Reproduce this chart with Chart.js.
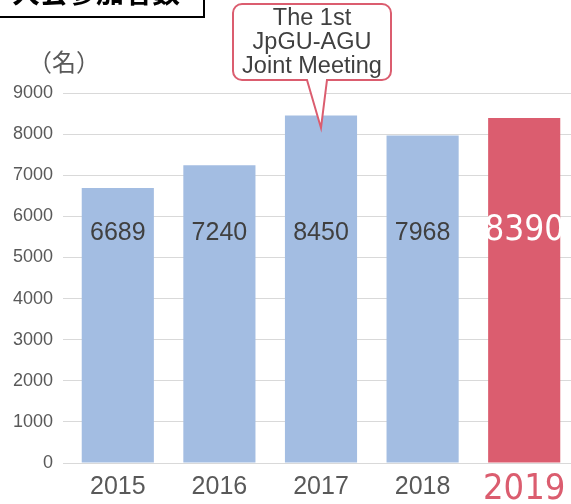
<!DOCTYPE html>
<html>
<head>
<meta charset="utf-8">
<script src="https://cdn.jsdelivr.net/npm/chart.js@4"></script>
<style>
  html, body { margin: 0; padding: 0; background: #fff; overflow: hidden; }
  #wrap { position: relative; width: 580px; height: 504px; }
</style>
</head>
<body>
<div id="wrap"><canvas id="barChart" width="580" height="504"></canvas></div>
<script>
const years = ['2015', '2016', '2017', '2018', '2019']
const participants = [6689, 7240, 8450, 7968, 8390]
const yTicks = [0, 1000, 2000, 3000, 4000, 5000, 6000, 7000, 8000, 9000]
const unitLabel = '（名）'
const titleText = '大会参加者数'
const calloutLines = ['The 1st', 'JpGU-AGU', 'Joint Meeting']

const BLUE = 'rgb(163, 189, 226)'
const RED = 'rgb(219, 93, 111)'
const GRAY = '#595959'
const TEXT = '#404040'
const SANS = '"Liberation Sans", Arial, sans-serif'
const NARROW = '"Liberation Sans Narrow", "DejaVu Sans Condensed", sans-serif'

const lastIdx = years.length - 1
const barColors = years.map((y, i) => i === lastIdx ? RED : BLUE)

// value labels inside the bars + annotations
const overlay = {
    id: 'overlay',
    afterDatasetsDraw(chart) {
        const ctx = chart.ctx
        const meta = chart.getDatasetMeta(0)
        const yScale = chart.scales.y
        const labelY = yScale.getPixelForValue(5600)
        ctx.save()
        ctx.textAlign = 'center'
        ctx.textBaseline = 'middle'
        meta.data.forEach((bar, i) => {
            if (i === lastIdx) {
                ctx.fillStyle = '#fff'
                ctx.font = '35px ' + NARROW
                ctx.fillText(String(participants[i]), bar.x, labelY - 2)
            } else {
                ctx.fillStyle = TEXT
                ctx.font = '25px ' + SANS
                ctx.fillText(String(participants[i]), bar.x, labelY)
            }
        })

        // unit label
        ctx.fillStyle = GRAY
        ctx.font = '24px "Noto Sans CJK JP", sans-serif'
        ctx.fillText(unitLabel, 64, 62)

        // title box, cut at the top of the picture
        ctx.fillStyle = '#fff'
        ctx.strokeStyle = '#000'
        ctx.lineWidth = 2
        ctx.fillRect(-4, -4, 208, 21)
        ctx.strokeRect(-4, -4, 208, 21)
        ctx.fillStyle = '#000'
        ctx.font = 'bold 28px "Noto Sans CJK JP", sans-serif'
        ctx.textBaseline = 'alphabetic'
        ctx.fillText(titleText, 96, 3)

        // callout pointing to the 2017 bar
        const target = meta.data[2]
        const tipX = target.x
        const tipY = yScale.getPixelForValue(8150)
        const bx = 233, by = 4, bw = 158, bh = 76, r = 9
        ctx.beginPath()
        ctx.moveTo(bx + r, by)
        ctx.lineTo(bx + bw - r, by)
        ctx.arcTo(bx + bw, by, bx + bw, by + r, r)
        ctx.lineTo(bx + bw, by + bh - r)
        ctx.arcTo(bx + bw, by + bh, bx + bw - r, by + bh, r)
        ctx.lineTo(tipX + 6, by + bh)
        ctx.lineTo(tipX, tipY)
        ctx.lineTo(tipX - 14, by + bh)
        ctx.lineTo(bx + r, by + bh)
        ctx.arcTo(bx, by + bh, bx, by + bh - r, r)
        ctx.lineTo(bx, by + r)
        ctx.arcTo(bx, by, bx + r, by, r)
        ctx.closePath()
        ctx.fillStyle = '#fff'
        ctx.fill()
        ctx.strokeStyle = RED
        ctx.lineWidth = 2
        ctx.stroke()
        ctx.fillStyle = TEXT
        ctx.font = '23.5px ' + SANS
        ctx.textBaseline = 'middle'
        calloutLines.forEach((line, k) => {
            ctx.fillText(line, bx + bw / 2, 19 + k * 24)
        })
        ctx.restore()
    }
}

const CHART = document.getElementById('barChart')
let barChart = new Chart(CHART, {
    type: 'bar',
    data: {
        labels: years,
        datasets: [{
            data: participants,
            backgroundColor: barColors,
            borderWidth: 0,
            categoryPercentage: 1,
            barPercentage: 0.71
        }]
    },
    options: {
        responsive: false,
        animation: false,
        layout: {
            padding: { top: 93, left: 0, right: 5, bottom: 0 }
        },
        plugins: {
            legend: { display: false },
            tooltip: { enabled: false }
        },
        scales: {
            x: {
                afterFit: (axis) => { axis.height = 41 },
                grid: { display: false },
                border: { display: false },
                ticks: {
                    padding: 1,
                    color: (c) => c.index === lastIdx ? RED : GRAY,
                    font: (c) => c.index === lastIdx
                        ? { size: 36, family: NARROW, lineHeight: 1 }
                        : { size: 25, family: SANS }
                }
            },
            y: {
                min: 0,
                max: 9000,
                afterBuildTicks: (axis) => {
                    axis.ticks = yTicks.map(v => ({ value: v }))
                },
                afterFit: (axis) => { axis.width = 67 },
                grid: {
                    color: '#d9d9d9',
                    lineWidth: 1,
                    tickLength: 4
                },
                border: { display: false },
                ticks: {
                    padding: 10,
                    color: GRAY,
                    font: { size: 18, family: SANS },
                    callback: (v) => String(v)
                }
            }
        }
    },
    plugins: [overlay]
})
</script>
</body>
</html>
